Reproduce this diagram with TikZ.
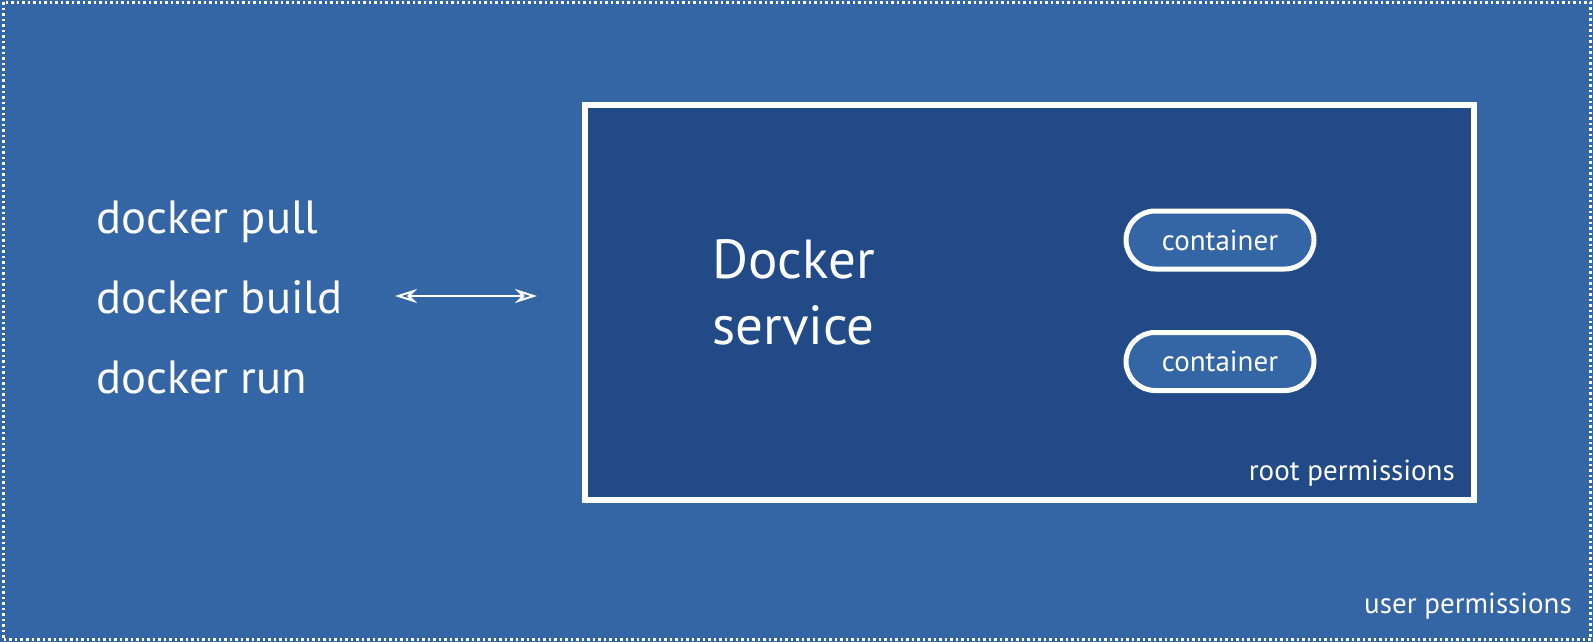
\documentclass[tikz,border=0pt]{standalone}
\usepackage{fontspec}
\setmainfont{PT Sans}
\usetikzlibrary{arrows.meta}
\definecolor{bgblue}{RGB}{52,101,165}
\definecolor{darkblue}{RGB}{33,74,135}
\tikzset{
  cmd/.style={anchor=base west,inner sep=0pt,text=white,font=\fontsize{46.6}{54}\selectfont},
  svc/.style={anchor=base west,inner sep=0pt,text=white,font=\fontsize{55}{64}\selectfont},
  perm/.style={anchor=base east,inner sep=0pt,text=white,font=\fontsize{29}{34}\selectfont},
  pill/.style={draw=white,line width=5pt,fill=bgblue,rounded corners=29pt,minimum width=188pt,minimum height=58pt,inner sep=0pt,text=white,font=\fontsize{29}{34}\selectfont},
}
\begin{document}
\begin{tikzpicture}[x=1pt,y=-1pt]
\useasboundingbox (0,0) rectangle (1593,642);
\fill[bgblue] (0,0) rectangle (1593,642);
\draw[white,line width=3pt,dash pattern=on 2.5pt off 3pt] (3,2.5) rectangle (1590.5,639.5);
\draw[white,line width=6pt,fill=darkblue] (585,105) rectangle (1474,500);
\node[cmd] (pull) at (96,233) {docker pull};
\node[cmd] (build) at (96,313) {docker build};
\node[cmd] (run) at (96,393) {docker run};
\node[svc] (docker) at (712,278) {Docker};
\node[svc] (service) at (712,344) {service};
\node[pill] (c1) at (1220,240) {container};
\node[pill] (c2) at (1220,361.5) {container};
\node[perm] (root) at (1455,480) {root permissions};
\node[perm] (user) at (1572,613) {user permissions};
\coordinate (aL) at (395,296);
\coordinate (aR) at (537,296);
\draw[white,line width=2pt,{Stealth[open,length=22pt,width=14pt,inset=7pt]}-{Stealth[open,length=22pt,width=14pt,inset=7pt]}] (aL) -- (aR);
\end{tikzpicture}
\end{document}
